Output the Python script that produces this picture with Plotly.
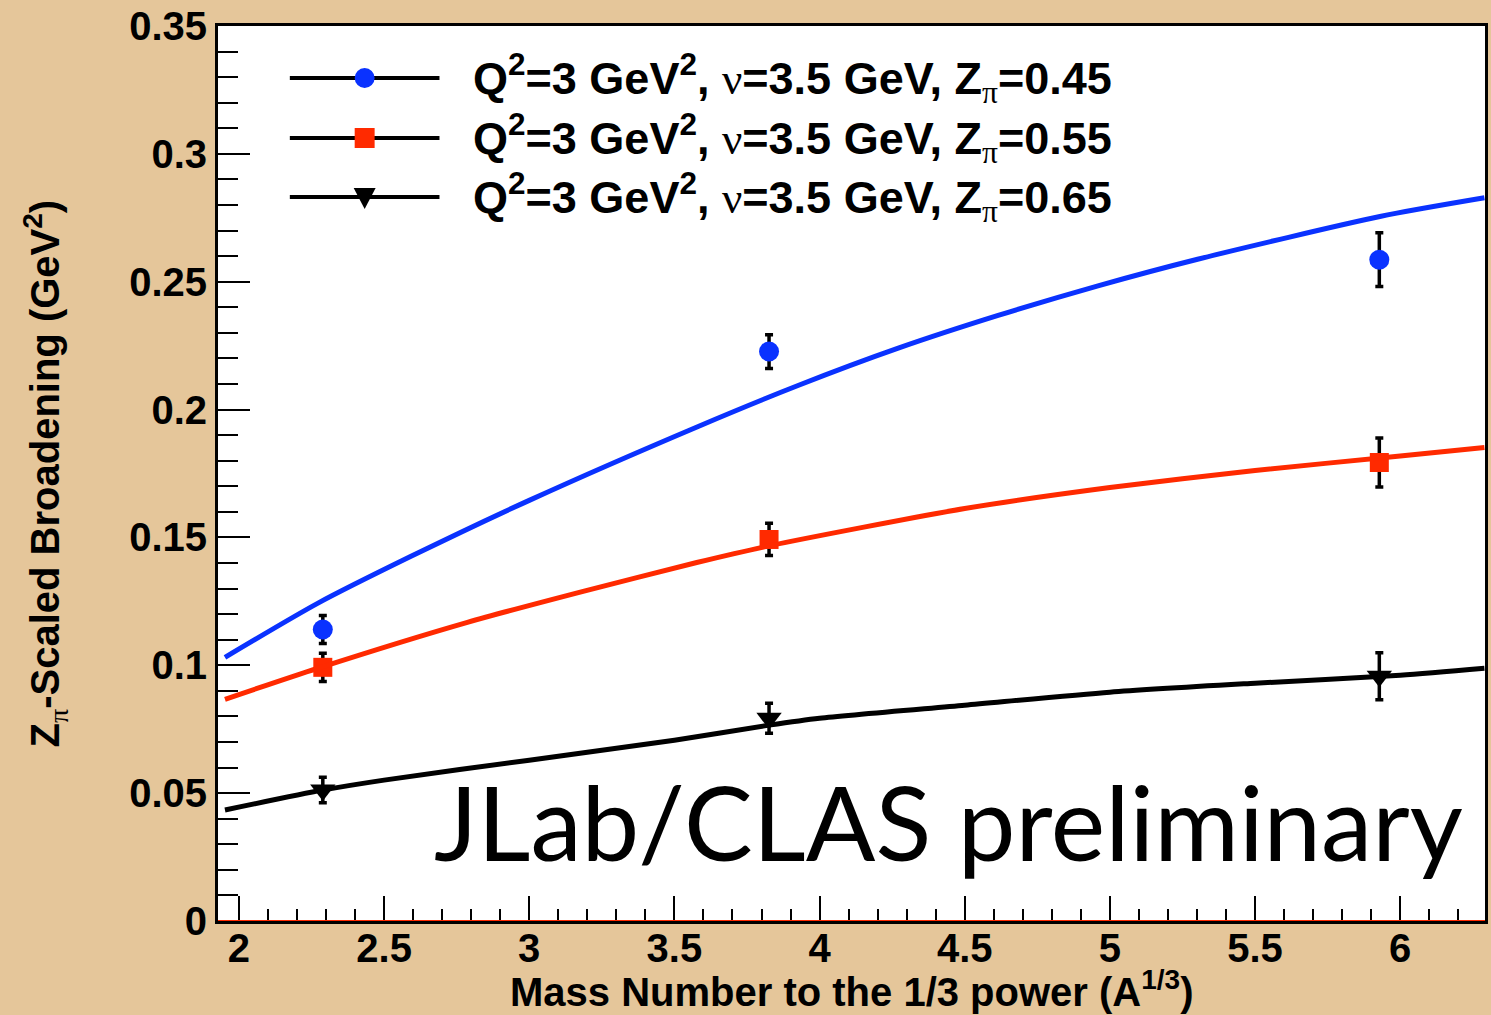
import plotly.graph_objects as go

# ---------------- data ----------------
a13 = [2.289, 3.826, 5.928]          # A^(1/3) for C, Fe, Pb

blue_y = [0.114, 0.2227, 0.2586]
blue_err = [0.0055, 0.0066, 0.0105]
red_y = [0.0992, 0.1492, 0.1793]
red_err = [0.0055, 0.0063, 0.0096]
black_y = [0.0512, 0.0793, 0.0957]
black_err = [0.0050, 0.0059, 0.0092]

blue_cx = [1.952, 2.271, 2.591, 3.0, 3.584, 3.928, 4.271, 4.615, 4.959, 5.302, 5.93, 6.29]
blue_cy = [0.1031, 0.1242, 0.1425, 0.1645, 0.1935, 0.2095, 0.2240, 0.2368, 0.2484, 0.2588, 0.2755, 0.2828]
red_cx = [1.952, 2.271, 2.787, 3.189, 3.577, 3.826, 4.5, 5.0, 5.5, 6.0, 6.29]
red_cy = [0.0867, 0.0988, 0.1168, 0.1290, 0.1402, 0.1467, 0.1613, 0.1695, 0.1762, 0.1818, 0.1852]
black_cx = [1.952, 2.289, 2.5, 3.0, 3.5, 3.826, 4.0, 4.5, 5.0, 5.5, 6.0, 6.29]
black_cy = [0.0434, 0.0512, 0.0551, 0.0629, 0.0707, 0.0766, 0.0793, 0.0844, 0.0895, 0.0930, 0.0961, 0.0988]

GREEK = "<span style='font-family:Liberation Serif;font-weight:normal'>{}</span>"
legend_labels = [
    "Q<sup>2</sup>=3 GeV<sup>2</sup>, " + GREEK.format("ν") + "=3.5 GeV, Z<sub>" + GREEK.format("π") + "</sub>=" + z
    for z in ["0.45", "0.55", "0.65"]
]

BLUE = "#0a32ff"
RED = "#ff2a00"
BLACK = "#000000"
BG = "#e5c69a"

W, H = 1491, 1015
L, R, T, B = 218, 3, 26, 94
PW, PH = W - L - R, H - T - B

def px(x):
    return (x - L) / PW

def py(y):
    return (H - B - y) / PH

fig = go.Figure()

series = [
    (blue_y, blue_err, BLUE, "circle", 20),
    (red_y, red_err, RED, "square", 19),
    (black_y, black_err, BLACK, "triangle-down", 22),
]
for yv, ev, col, sym, sz in series:
    fig.add_trace(go.Scatter(
        x=a13, y=yv, mode="markers",
        marker=dict(color=col, symbol=sym, size=sz, line=dict(width=0)),
        error_y=dict(type="data", array=ev, visible=True, color="black",
                     thickness=3.5, width=4),
        showlegend=False, hoverinfo="skip"))

for cx, cy, col in [(blue_cx, blue_cy, BLUE), (red_cx, red_cy, RED), (black_cx, black_cy, BLACK)]:
    fig.add_trace(go.Scatter(
        x=cx, y=cy, mode="lines", line=dict(color=col, width=5, shape="spline", smoothing=0.7),
        showlegend=False, hoverinfo="skip"))

shapes = []
annotations = []

# red line along y = 0
shapes.append(dict(type="line", xref="paper", yref="y", x0=0, x1=1, y0=0, y1=0,
                   line=dict(color=RED, width=2)))

# custom legend
leg_rows = [78, 138, 197]
mk_x = 365
for i, (row, lab) in enumerate(zip(leg_rows, legend_labels)):
    shapes.append(dict(type="line", xref="paper", yref="paper",
                       x0=px(290), x1=px(440), y0=py(row), y1=py(row),
                       line=dict(color="black", width=4)))
    if i == 0:
        shapes.append(dict(type="circle", xref="paper", yref="paper",
                           x0=px(mk_x - 10), x1=px(mk_x + 10), y0=py(row + 10), y1=py(row - 10),
                           fillcolor=BLUE, line=dict(width=0)))
    elif i == 1:
        shapes.append(dict(type="rect", xref="paper", yref="paper",
                           x0=px(mk_x - 10), x1=px(mk_x + 10), y0=py(row + 10), y1=py(row - 10),
                           fillcolor=RED, line=dict(width=0)))
    else:
        path = "M {} {} L {} {} L {} {} Z".format(
            px(mk_x - 11), py(row - 9), px(mk_x + 11), py(row - 9), px(mk_x), py(row + 12))
        shapes.append(dict(type="path", xref="paper", yref="paper", path=path,
                           fillcolor="black", line=dict(width=0)))
    annotations.append(dict(
        xref="paper", yref="paper", x=px(472), y=py(row), xanchor="left", yanchor="middle",
        text=lab, showarrow=False,
        font=dict(family="Liberation Sans", size=45, color="black", weight="bold")))

# JLab/CLAS preliminary
annotations.append(dict(
    xref="paper", yref="paper", x=px(1468), y=py(821), xanchor="right", yanchor="middle",
    text="JLab/CLAS preliminary", showarrow=False,
    font=dict(family="Lato", size=103, color="black")))

# axis titles
annotations.append(dict(
    xref="paper", yref="paper", x=px(853), y=py(989), xanchor="center", yanchor="middle",
    text="Mass Number to the 1/3 power (A<sup>1/3</sup>)", showarrow=False,
    font=dict(family="Liberation Sans", size=40, color="black", weight="bold")))
annotations.append(dict(
    xref="paper", yref="paper", x=px(45), y=py(473), xanchor="center", yanchor="middle",
    textangle=-90,
    text="Z<sub>" + GREEK.format("π") + "</sub>-Scaled Broadening (GeV<sup>2</sup>)",
    showarrow=False,
    font=dict(family="Liberation Sans", size=40, color="black", weight="bold")))

tickfont = dict(family="Liberation Sans", size=40, color="black", weight="bold")

fig.update_layout(
    width=W, height=H,
    margin=dict(l=L, r=R, t=T, b=B, pad=0),
    paper_bgcolor=BG, plot_bgcolor="white",
    showlegend=False,
    shapes=shapes, annotations=annotations,
    xaxis=dict(range=[1.928, 6.292], showgrid=False, zeroline=False,
               showline=True, linecolor="black", linewidth=3, mirror=True,
               ticks="inside", ticklen=25, tickwidth=2, tickcolor="black",
               tick0=2, dtick=0.5, tickfont=tickfont, ticklabelstandoff=-10,
               minor=dict(ticks="inside", ticklen=12, tickwidth=2, tickcolor="black", dtick=0.1, showgrid=False)),
    yaxis=dict(range=[0, 0.35], showgrid=False, zeroline=False,
               showline=True, linecolor="black", linewidth=3, mirror=True,
               ticks="inside", ticklen=32, tickwidth=2, tickcolor="black",
               tick0=0, dtick=0.05, tickfont=tickfont,
               minor=dict(ticks="inside", ticklen=20, tickwidth=2, tickcolor="black", dtick=0.01, showgrid=False)),
)

fig.write_html("out.html")
